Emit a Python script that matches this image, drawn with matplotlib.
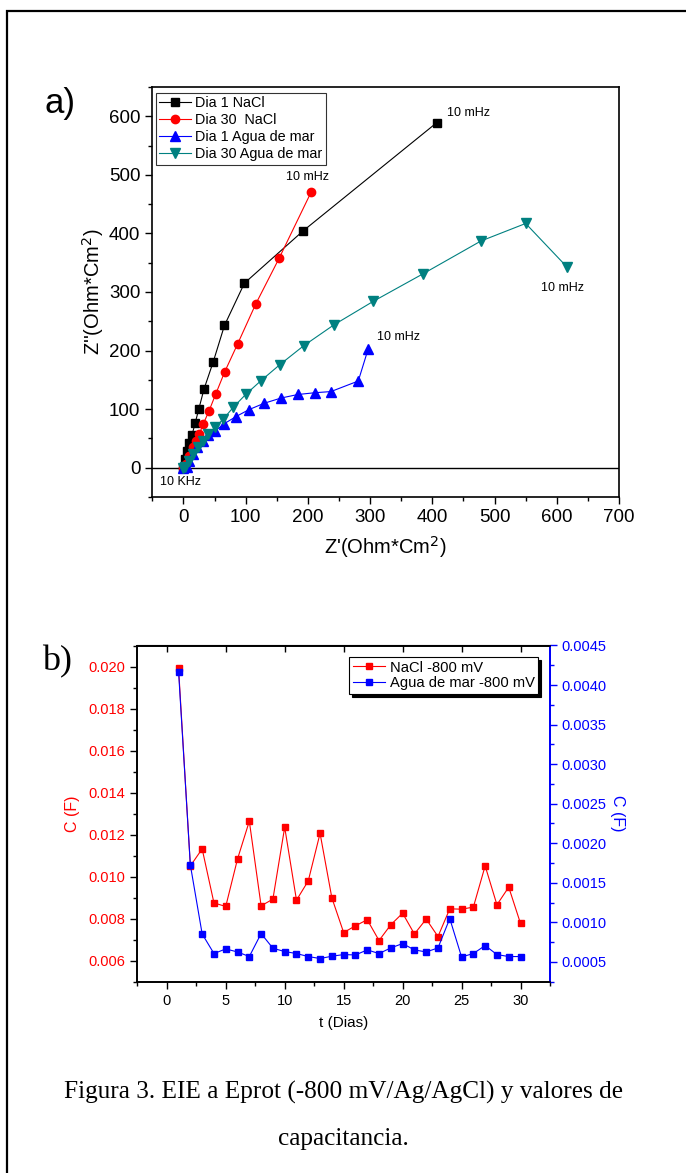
import matplotlib
matplotlib.use('Agg')
import matplotlib.pyplot as plt
from matplotlib.patches import Rectangle
from matplotlib.ticker import MultipleLocator

plt.rcParams['font.family'] = ['Liberation Sans', 'DejaVu Sans']

# --- a) Nyquist data (Z', Z'') ---
d1_nacl_x = [0, 2.7, 6, 9.6, 14, 18.8, 24.7, 33, 48, 66, 98, 192, 407]
d1_nacl_y = [0, 15, 29, 42, 56.5, 76, 100, 134, 181, 243, 315, 404, 589]
d30_nacl_x = [0, 4.3, 9.6, 15, 20.4, 25.7, 31.6, 40.8, 52, 66.5, 87.4, 116, 154, 205]
d30_nacl_y = [0, 7, 20.5, 35, 46, 57.7, 74, 96, 126, 164, 212, 279, 358, 470]
d1_mar_x = [0, 5.4, 9.6, 15, 21.5, 31, 40, 51.4, 65.4, 84, 105, 129.6, 157, 184, 211, 237, 281, 297]
d1_mar_y = [0, 0.5, 12, 23.5, 35, 46, 55, 63, 75, 87, 99, 110, 119, 125, 128, 130, 148, 203]
d30_mar_x = [0, 2.7, 9.6, 16, 24, 32, 40, 51, 64, 80, 100, 124, 155, 193, 242, 305, 385, 478, 550, 617]
d30_mar_y = [0, 0.5, 12, 23.5, 35, 46, 57.6, 69, 83, 103, 125, 148, 176, 208, 244, 284, 331, 387, 417, 342]

# --- b) capacitance vs days ---
dias = list(range(1, 31))
c_nacl = [0.01992, 0.01051, 0.01132, 0.00875, 0.00858, 0.01084, 0.01264, 0.00861, 0.00893, 0.01235,
          0.00888, 0.00980, 0.01206, 0.00899, 0.00734, 0.00766, 0.00795, 0.00696, 0.00771, 0.00826,
          0.00727, 0.00798, 0.00715, 0.00847, 0.00845, 0.00855, 0.01051, 0.00866, 0.00950, 0.00777]
c_mar = [0.00417, 0.001725, 0.000854, 0.000606, 0.000664, 0.000626, 0.000568, 0.000859, 0.000673, 0.000631,
         0.000606, 0.000568, 0.000543, 0.000572, 0.000593, 0.000588, 0.000652, 0.000606, 0.000677, 0.000732,
         0.000652, 0.000626, 0.000677, 0.001048, 0.000563, 0.000606, 0.000707, 0.000593, 0.000568, 0.000568]

teal = '#008080'

fig = plt.figure(figsize=(6.86, 11.73), dpi=100)

# outer frame (runs off the right and bottom edges)
fig.add_artist(Rectangle((7/686, -0.05), 1.2, 1 - 11/1173 + 0.05, transform=fig.transFigure,
                         fill=False, edgecolor='black', linewidth=1.6))

# ---------------- a) ----------------
ax1 = fig.add_axes([152.3/686, 1 - 497/1173, (619 - 152.3)/686, 410/1173])
ax1.plot(d1_nacl_x, d1_nacl_y, '-s', color='black', lw=0.8, ms=5.5, label='Dia 1 NaCl')
ax1.plot(d30_nacl_x, d30_nacl_y, '-o', color='red', lw=0.8, ms=6, label='Dia 30  NaCl')
ax1.plot(d1_mar_x, d1_mar_y, '-^', color='blue', lw=0.8, ms=7, label='Dia 1 Agua de mar')
ax1.plot(d30_mar_x, d30_mar_y, '-v', color=teal, lw=0.8, ms=7, label='Dia 30 Agua de mar')
ax1.axhline(0, color='black', lw=1.0, zorder=0)

ax1.set_xlim(-50, 700)
ax1.set_ylim(-50, 650)
ax1.xaxis.set_major_locator(MultipleLocator(100))
ax1.xaxis.set_minor_locator(MultipleLocator(50))
ax1.yaxis.set_major_locator(MultipleLocator(100))
ax1.yaxis.set_minor_locator(MultipleLocator(50))
ax1.tick_params(which='both', direction='out', labelsize=13.5, width=1)
ax1.tick_params(which='major', length=5)
ax1.tick_params(which='minor', length=3)
for s in ax1.spines.values():
    s.set_linewidth(1.2)

ax1.set_xlabel("Z'(Ohm*Cm$^2$)", fontsize=14.5, labelpad=6)
ax1.set_ylabel("Z''(Ohm*Cm$^2$)", fontsize=14.5, labelpad=2)

ax1.text(423, 606, '10 mHz', fontsize=9, va='center', ha='left')
ax1.text(199, 497, '10 mHz', fontsize=9, va='center', ha='center')
ax1.text(311, 223, '10 mHz', fontsize=9, va='center', ha='left')
ax1.text(574, 306, '10 mHz', fontsize=9, va='center', ha='left')
ax1.text(-38, -25, '10 KHz', fontsize=9, va='center', ha='left')

leg1 = ax1.legend(loc='upper left', bbox_to_anchor=(0.007, 0.986), borderaxespad=0,
                  fontsize=10.4, frameon=True, fancybox=False, edgecolor='black',
                  labelspacing=0.2, handlelength=2.2, handletextpad=0.3, borderpad=0.25)
leg1.get_frame().set_linewidth(0.8)

fig.text(45/686, 1 - 103/1173, 'a)', fontsize=25, va='center', ha='left')

# ---------------- b) ----------------
ax2 = fig.add_axes([137.3/686, 1 - 981.7/1173, (550 - 137.3)/686, (981.7 - 645.5)/1173])
ax3 = ax2.twinx()
ax2.plot(dias, c_nacl, '-s', color='red', lw=0.8, ms=5, label='NaCl -800 mV')
ax3.plot(dias, c_mar, '-s', color='blue', lw=0.8, ms=5, label='Agua de mar -800 mV')

ax2.set_xlim(-2.5, 32.5)
ax2.set_ylim(0.005, 0.021)
ax3.set_ylim(0.00025, 0.0045)
ax2.xaxis.set_major_locator(MultipleLocator(5))
ax2.xaxis.set_minor_locator(MultipleLocator(2.5))
ax2.yaxis.set_major_locator(MultipleLocator(0.002))
ax2.yaxis.set_minor_locator(MultipleLocator(0.001))
ax3.yaxis.set_major_locator(MultipleLocator(0.0005))
ax3.yaxis.set_minor_locator(MultipleLocator(0.00025))
ax2.yaxis.set_major_formatter(plt.FormatStrFormatter('%.3f'))
ax3.yaxis.set_major_formatter(plt.FormatStrFormatter('%.4f'))

ax2.tick_params(which='both', direction='out', labelsize=10.5, width=1)
ax2.tick_params(axis='y', labelcolor='red')
ax2.tick_params(which='major', length=5)
ax2.tick_params(which='minor', length=3)
ax3.tick_params(which='both', direction='out', labelsize=10.5, colors='blue', width=1)
ax3.tick_params(which='major', length=5)
ax3.tick_params(which='minor', length=3)
ax3.spines['right'].set_color('blue')
for s in ax2.spines.values():
    s.set_linewidth(1.2)
for s in ax3.spines.values():
    s.set_linewidth(1.2)
ax3.spines['right'].set_linewidth(1.4)

top = ax2.secondary_xaxis('top')
top.xaxis.set_major_locator(MultipleLocator(5))
top.tick_params(direction='in', length=5, labeltop=False, width=1)

ax2.set_xlabel('t (Dias)', fontsize=11, labelpad=6)
ax2.set_ylabel('C (F)', fontsize=11.5, color='red', labelpad=6)
ax3.set_ylabel('C (F)', fontsize=11.5, color='blue', rotation=270, labelpad=13)

h2, l2 = ax2.get_legend_handles_labels()
h3, l3 = ax3.get_legend_handles_labels()
leg2 = ax3.legend(h2 + h3, l2 + l3, loc='upper left', bbox_to_anchor=(0.513, 0.966),
                  borderaxespad=0, fontsize=10.6, frameon=True, fancybox=False,
                  edgecolor='black', shadow={'color': 'black', 'alpha': 1},
                  labelspacing=0.1, handlelength=2.2, handletextpad=0.3, borderpad=0.25,
                  framealpha=1)
leg2.get_frame().set_linewidth(0.8)

fig.text(42/686, 1 - 662/1173, 'b)', fontsize=26, family='Liberation Serif', va='center', ha='left')

# caption
fig.text(343/686, 1 - 1092/1173, 'Figura 3. EIE a Eprot (-800 mV/Ag/AgCl) y valores de',
         fontsize=18.2, family='Liberation Serif', ha='center', va='center')
fig.text(343/686, 1 - 1139/1173, 'capacitancia.',
         fontsize=18.2, family='Liberation Serif', ha='center', va='center')

fig.savefig('out.png', dpi=100)
